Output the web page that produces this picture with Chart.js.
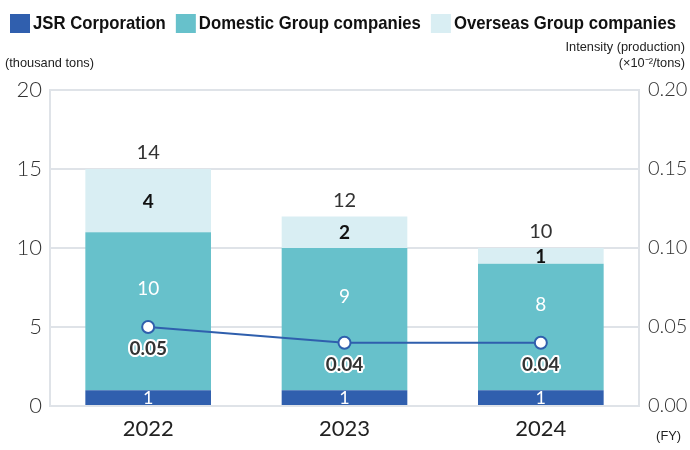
<!DOCTYPE html>
<html>
<head>
<meta charset="utf-8">
<script src="https://cdn.jsdelivr.net/npm/chart.js@4/dist/chart.umd.min.js"></script>
<style>
  html, body { margin: 0; padding: 0; background: #fff; }
  #wrap { width: 690px; height: 450px; }
</style>
</head>
<body>
<div id="wrap"><canvas id="co2Chart" width="690" height="450"></canvas></div>
<script>
// Fiscal years and values
const years = ['2022', '2023', '2024'];
const jsrValues = [1, 1, 1];
const domesticValues = [10, 9, 8];
const overseasValues = [4, 2, 1];
const totalLabels = [14, 12, 10];
const intensityValues = [0.05, 0.04, 0.04];
const leftTicks = [0, 5, 10, 15, 20];
const rightTicks = [0, 0.05, 0.10, 0.15, 0.20];

const textFont = '"Liberation Sans", Arial, sans-serif';
const numFont = 'Lato, "Noto Sans", sans-serif';

// draw text squeezed horizontally (the original uses a condensed face)
function narrowText(ctx, txt, x, y, sx) {
    ctx.save();
    ctx.translate(x, y);
    ctx.scale(sx, 1);
    ctx.fillText(txt, 0, 0);
    ctx.restore();
    return ctx.measureText(txt).width * sx;
}

// Legend drawn at the top, from the bar datasets
const topLegend = {
    id: 'topLegend',
    afterDraw(chart) {
        const ctx = chart.ctx;
        ctx.save();
        ctx.font = 'bold 19px ' + textFont;
        ctx.textBaseline = 'middle';
        ctx.textAlign = 'left';
        let x = 10;
        chart.data.datasets.filter(d => d.type !== 'line').forEach(d => {
            ctx.fillStyle = d.backgroundColor;
            ctx.fillRect(x, 14, 20, 19);
            x += 23;
            ctx.fillStyle = '#111';
            x += narrowText(ctx, d.label, x, 24, 0.88) + 10;
        });
        ctx.restore();
    }
};

// Unit captions around the axes
const axisCaptions = {
    id: 'axisCaptions',
    afterDraw(chart) {
        const ctx = chart.ctx;
        ctx.save();
        ctx.fillStyle = '#222';
        ctx.font = '12.8px ' + textFont;
        ctx.textBaseline = 'middle';
        ctx.textAlign = 'left';
        narrowText(ctx, '(thousand tons)', 5, 63, 1);
        ctx.textAlign = 'right';
        narrowText(ctx, 'Intensity (production)', 685, 47, 1);
        narrowText(ctx, '(\u00d710\u207b\u00b2/tons)', 685, 63, 1);
        narrowText(ctx, '(FY)', 681, 436, 1);
        ctx.restore();
    }
};

// Value labels on the bars and on the line
const valueLabels = {
    id: 'valueLabels',
    afterDatasetsDraw(chart) {
        const ctx = chart.ctx;
        ctx.save();
        ctx.textAlign = 'center';
        ctx.textBaseline = 'middle';

        const lineMeta = chart.getDatasetMeta(0);
        const jsrMeta = chart.getDatasetMeta(1);
        const domMeta = chart.getDatasetMeta(2);
        const ovsMeta = chart.getDatasetMeta(3);

        years.forEach((yr, i) => {
            const bx = jsrMeta.data[i].x;
            // JSR
            const jb = jsrMeta.data[i];
            ctx.font = '18px ' + numFont;
            ctx.fillStyle = '#fff';
            ctx.fillText(jsrValues[i], bx, (jb.y + jb.base) / 2 + 1);
            // Domestic
            const db = domMeta.data[i];
            ctx.font = '19px ' + numFont;
            ctx.fillText(domesticValues[i], bx, (db.y + db.base) / 2 - 22);
            // Overseas
            const ob = ovsMeta.data[i];
            ctx.font = 'bold 19px ' + numFont;
            ctx.fillStyle = '#111';
            ctx.fillText(overseasValues[i], bx, (ob.y + ob.base) / 2 + 1);
            // Totals
            ctx.font = '20px ' + numFont;
            ctx.fillStyle = '#333';
            ctx.fillText(totalLabels[i], bx, ob.y - 16);
            // Intensity
            const p = lineMeta.data[i];
            const txt = intensityValues[i].toFixed(2);
            ctx.font = 'bold 19px ' + numFont;
            ctx.lineWidth = 4;
            ctx.lineJoin = 'round';
            ctx.strokeStyle = '#fff';
            ctx.strokeText(txt, p.x, p.y + 22);
            ctx.fillStyle = '#333';
            ctx.fillText(txt, p.x, p.y + 22);
        });
        ctx.restore();
    }
};

const ctx = document.getElementById('co2Chart').getContext('2d');
const co2Chart = new Chart(ctx, {
    type: 'bar',
    data: {
        labels: years,
        datasets: [
            {
                type: 'line',
                label: 'Intensity (production)',
                data: intensityValues,
                yAxisID: 'y1',
                borderColor: '#2f5fad',
                borderWidth: 2,
                pointBackgroundColor: '#fff',
                pointBorderColor: '#2f5fad',
                pointBorderWidth: 2,
                pointRadius: 6,
                tension: 0,
                order: 0
            },
            {
                label: 'JSR Corporation',
                data: jsrValues,
                backgroundColor: '#305fae',
                stack: 's',
                order: 1
            },
            {
                label: 'Domestic Group companies',
                data: domesticValues,
                backgroundColor: '#67c1cb',
                stack: 's',
                order: 1
            },
            {
                label: 'Overseas Group companies',
                data: overseasValues,
                backgroundColor: '#d9eef3',
                stack: 's',
                order: 1
            }
        ]
    },
    options: {
        responsive: false,
        animation: false,
        layout: { padding: { top: 90, left: 0, right: 0, bottom: 0 } },
        datasets: {
            bar: { barPercentage: 0.64, categoryPercentage: 1.0 }
        },
        plugins: {
            legend: { display: false },
            tooltip: { enabled: false }
        },
        scales: {
            x: {
                stacked: true,
                grid: { display: false },
                border: { display: false },
                ticks: { color: '#222', font: { family: numFont, size: 22 }, padding: 2 },
                afterFit: s => { s.height = 44; }
            },
            y: {
                stacked: true,
                position: 'left',
                min: 0,
                max: 20,
                afterBuildTicks: s => { s.ticks = leftTicks.map(v => ({ value: v })); },
                grid: { color: '#dfe3e8', lineWidth: 2, drawTicks: false },
                border: { display: true, color: '#dfe3e8', width: 2 },
                ticks: { color: '#333', font: { family: numFont, size: 22, weight: 300 }, padding: 8 },
                afterFit: s => { s.width = 50; }
            },
            y1: {
                position: 'right',
                min: 0,
                max: 0.2,
                afterBuildTicks: s => { s.ticks = rightTicks.map(v => ({ value: v })); },
                grid: { display: false, drawTicks: false },
                border: { display: true, color: '#dfe3e8', width: 2 },
                ticks: {
                    color: '#333',
                    font: { family: numFont, size: 20, weight: 300 },
                    padding: 9,
                    callback: v => v.toFixed(2)
                },
                afterFit: s => { s.width = 51; }
            }
        }
    },
    plugins: [topLegend, axisCaptions, valueLabels]
});
</script>
</body>
</html>
